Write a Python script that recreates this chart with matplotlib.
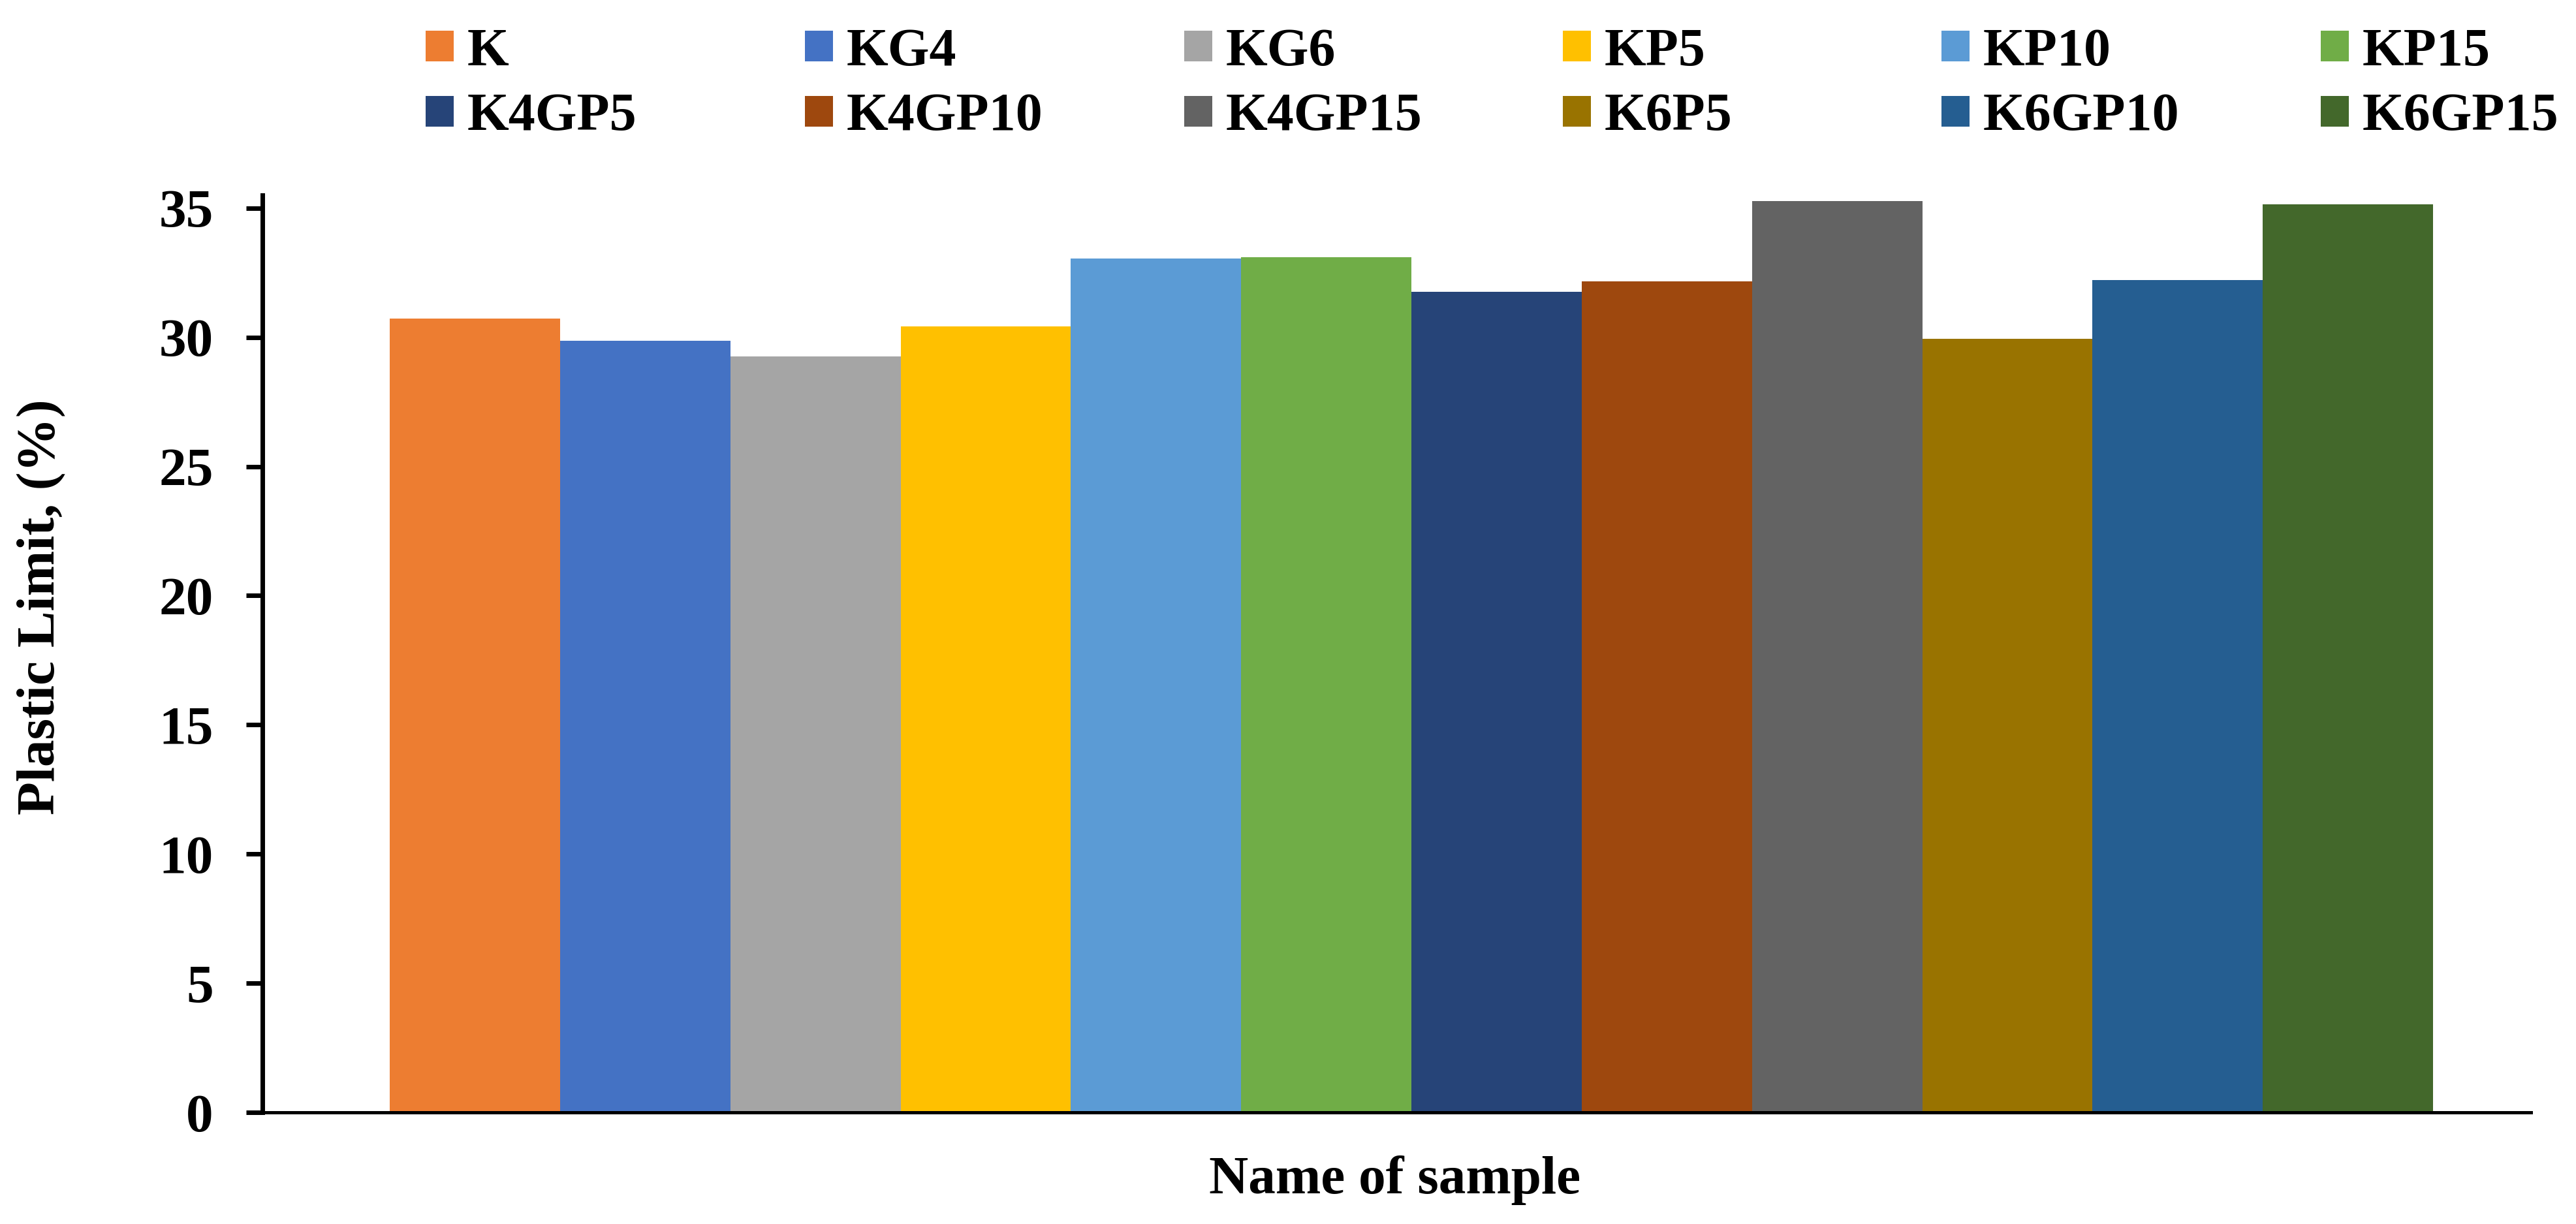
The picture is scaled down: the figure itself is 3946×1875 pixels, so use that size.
import numpy as np
import matplotlib
matplotlib.use('Agg')
import matplotlib.pyplot as plt

# donnees
samples = ['K', 'KG4', 'KG6', 'KP5', 'KP10', 'KP15',
           'K4GP5', 'K4GP10', 'K4GP15', 'K6P5', 'K6GP10', 'K6GP15']
plastic_limit = [30.73, 29.87, 29.25, 30.43, 33.06, 33.11,
                 31.77, 32.17, 35.28, 29.95, 32.22, 35.15]
colors = ['#ED7D31', '#4472C4', '#A5A5A5', '#FFC000', '#5B9BD5', '#70AD47',
          '#264478', '#9E480E', '#636363', '#997300', '#255E91', '#43682B']
y_ticks = [0, 5, 10, 15, 20, 25, 30, 35]

W, H = 3946, 1875
plt.rcParams['font.family'] = ['Liberation Serif', 'DejaVu Serif']
plt.rcParams['font.weight'] = 'bold'

fig = plt.figure(figsize=(W / 100, H / 100), dpi=100)
ax = fig.add_axes([402 / W, 1 - 1704 / H, (3877 - 402) / W, (1704 - 299) / H])

handles = []
for i in range(len(samples)):
    b = ax.bar(i, plastic_limit[i], width=1.0, color=colors[i], label=samples[i])
    handles.append(b)

ax.set_xlim(-1.248, 12.075)
ax.set_ylim(0, 35.5)
ax.set_yticks(y_ticks)
ax.set_yticklabels([str(t) for t in y_ticks], fontsize=60, fontweight='bold')
ax.tick_params(axis='y', direction='out', length=18, width=5, pad=36)
ax.set_xticks([])

ax.spines['top'].set_visible(False)
ax.spines['right'].set_visible(False)
ax.spines['left'].set_linewidth(5)
ax.spines['bottom'].set_linewidth(3.6)

# legende : une colonne = deux entrees, colonnes espacees comme dans Excel
col_x = [652, 1233, 1814, 2394, 2974, 3555]
for c in range(6):
    fig.legend(handles=[handles[c], handles[c + 6]], loc='center left',
               bbox_to_anchor=(col_x[c] / W, 1 - 130 / H), frameon=False,
               prop={'size': 59, 'weight': 'bold'}, borderpad=0, borderaxespad=0,
               handlelength=0.53, handleheight=0.51, handletextpad=0.25,
               labelspacing=0.3)

fig.text(64 / W, 1 - 930 / H, 'Plastic Limit, (%)', rotation=90, fontsize=60,
         fontweight='bold', ha='center', va='center')
fig.text(2137 / W, 1 - 1828 / H, 'Name of sample', fontsize=60,
         fontweight='bold', ha='center', va='baseline')

fig.savefig('out.png', dpi=100)
